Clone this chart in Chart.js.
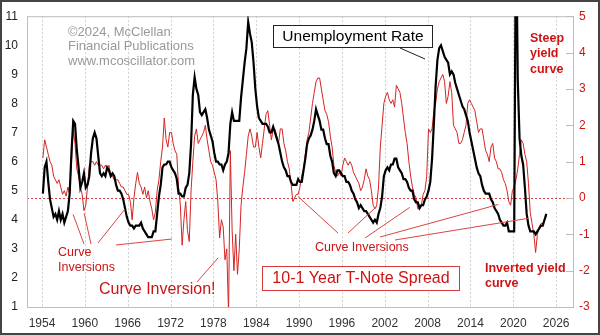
<!DOCTYPE html>
<html>
<head>
<meta charset="utf-8">
<script src="https://cdn.jsdelivr.net/npm/chart.js@4.4.1/dist/chart.umd.min.js"></script>
<style>
  html, body { margin: 0; padding: 0; background: #fff; }
</style>
</head>
<body>
<canvas id="chart" width="600" height="335"></canvas>
<script>
// quarterly values, first quarter of 1954 onwards
const firstYear = 1954;
const yearTicks = [1954, 1960, 1966, 1972, 1978, 1984, 1990, 1996, 2002, 2008, 2014, 2020, 2026];
const unemploymentTicks = [1, 2, 3, 4, 5, 6, 7, 8, 9, 10, 11];
const spreadTicks = [-3, -2, -1, 0, 1, 2, 3, 4, 5];

const unemployment = [
  4.9, 5.8, 6.0, 5.3,   // 1954
  4.7, 4.4, 4.1, 4.2,
  4.0, 4.3, 4.0, 4.2,
  3.9, 4.1, 4.3, 4.9,
  6.3, 7.4, 7.3, 6.4,   // 1958
  5.8, 5.1, 5.3, 5.6,
  5.1, 5.2, 5.5, 6.3,   // 1960
  6.8, 7.0, 6.8, 6.2,
  5.6, 5.5, 5.6, 5.5,
  5.8, 5.7, 5.5, 5.6,
  5.5, 5.2, 5.0, 5.0,
  4.9, 4.7, 4.4, 4.1,
  3.9, 3.8, 3.8, 3.7,   // 1966
  3.8, 3.8, 3.8, 3.9,
  3.7, 3.6, 3.5, 3.4,
  3.4, 3.4, 3.6, 3.6,
  4.2, 4.8, 5.2, 5.8,   // 1970
  5.9, 5.9, 6.0, 6.0,
  5.8, 5.7, 5.6, 5.4,
  4.9, 4.9, 4.8, 4.8,
  5.1, 5.2, 5.6, 6.6,
  8.3, 8.9, 8.5, 8.3,   // 1975
  7.7, 7.6, 7.7, 7.8,
  7.5, 7.1, 6.9, 6.7,
  6.3, 6.0, 6.0, 5.9,
  5.9, 5.7, 5.9, 6.0,
  6.3, 7.3, 7.7, 7.4,   // 1980
  7.4, 7.4, 7.4, 8.2,
  8.8, 9.4, 9.9, 10.8,
  10.4, 10.1, 9.4, 8.5,
  7.9, 7.5, 7.4, 7.3,
  7.3, 7.3, 7.2, 7.0,   // 1985
  7.0, 7.2, 7.0, 6.8,
  6.6, 6.3, 6.0, 5.8,
  5.7, 5.5, 5.5, 5.3,
  5.2, 5.2, 5.2, 5.4,
  5.3, 5.3, 5.7, 6.1,   // 1990
  6.6, 6.8, 6.9, 7.1,
  7.4, 7.8, 7.6, 7.4,
  7.1, 7.1, 6.8, 6.6,
  6.6, 6.2, 6.0, 5.6,
  5.5, 5.7, 5.7, 5.6,   // 1995
  5.5, 5.5, 5.3, 5.3,
  5.2, 5.0, 4.9, 4.7,
  4.6, 4.4, 4.5, 4.4,
  4.3, 4.3, 4.2, 4.1,
  4.0, 3.9, 4.0, 3.9,   // 2000
  4.2, 4.4, 4.8, 5.5,
  5.7, 5.8, 5.7, 5.9,
  5.9, 6.1, 6.1, 5.8,
  5.7, 5.6, 5.4, 5.4,
  5.3, 5.1, 5.0, 5.0,   // 2005
  4.7, 4.6, 4.6, 4.4,
  4.5, 4.5, 4.7, 4.8,
  5.0, 5.3, 6.1, 7.3,
  8.6, 9.5, 9.9, 10.0,
  9.8, 9.6, 9.5, 9.4,   // 2010
  9.0, 9.1, 9.0, 8.7,
  8.5, 8.3, 8.1, 7.9,
  7.8, 7.6, 7.4, 7.0,
  6.7, 6.4, 6.1, 5.8,
  5.6, 5.5, 5.2, 5.0,   // 2015
  4.9, 4.9, 4.9, 4.7,
  4.6, 4.4, 4.3, 4.2,
  4.0, 3.9, 3.8, 3.8,
  3.9, 3.6, 3.6, 3.6,
  3.6, 14.7, 8.8, 6.8,  // 2020
  6.2, 5.9, 5.1, 4.2,
  3.8, 3.6, 3.6, 3.6,
  3.5, 3.6, 3.7, 3.8,
  3.8, 4.0, 4.2         // 2024
];

// 10-year minus 1-year Treasury yield, percentage points
const spread = [
  1.1, 1.6, 1.4, 1.2,   // 1954
  1.0, 0.9, 0.6, 0.5,
  0.4, 0.5, 0.3, 0.1,
  0.2, 0.05, 0.3, 0.1,
  1.0, 1.9, 1.5, 0.8,   // 1958
  0.6, 0.3, 0.1, -0.35,
  -0.2, 0.3, 0.9, 1.0,  // 1960
  1.0, 0.9, 1.0, 0.9,
  0.9, 0.9, 0.8, 0.9,
  0.8, 0.9, 0.6, 0.6,
  0.5, 0.5, 0.5, 0.4,
  0.3, 0.3, 0.2, 0.1,
  0.1, -0.1, -0.6, 0.0, // 1966
  0.4, 0.7, 0.4, 0.3,
  0.1, 0.3, 0.0, 0.2,
  -0.1, -0.3, -0.6, -0.4,
  0.2, 0.5, 1.0, 1.4,   // 1970
  2.2, 1.6, 1.4, 1.8,
  1.8, 1.5, 1.3, 1.2,
  0.3, -0.2, -1.3, -0.6,
  -0.1, -0.9, -1.2, 0.2,
  1.0, 1.7, 1.9, 1.5,   // 1975
  1.6, 1.7, 1.8, 2.0,
  1.6, 1.3, 1.0, 0.9,
  0.7, 0.5, -0.1, -1.1,
  -0.6, -0.8, -1.7, -1.4,
  -3.2, 1.3, -0.9, -2.0, // 1980
  -1.0, -2.1, -1.4, -0.2,
  0.3, 0.7, 1.2, 1.7,
  1.9, 1.7, 1.4, 1.4,
  1.8, 1.4, 1.1, 1.5,
  1.9, 2.3, 2.4, 2.0,   // 1985
  1.6, 1.9, 1.9, 1.7,
  1.5, 1.9, 1.9, 1.5,
  1.3, 1.0, 0.8, 0.4,
  -0.1, 0.0, 0.1, 0.1,
  0.3, 0.6, 0.8, 1.2,   // 1990
  1.6, 1.8, 2.2, 2.6,
  2.9, 3.2, 3.3, 3.3,
  3.0, 2.7, 2.4, 2.3,
  2.1, 1.7, 1.4, 0.9,
  0.7, 0.6, 0.7, 0.6,   // 1995
  0.9, 1.1, 1.0, 0.9,
  1.0, 0.9, 0.7, 0.6,
  0.5, 0.4, 0.2, 0.3,
  0.5, 0.8, 0.6, 0.5,
  0.2, -0.2, -0.3, -0.2, // 2000
  0.3, 1.4, 2.0, 2.6,
  2.8, 2.9, 2.7, 2.6,
  2.7, 2.5, 3.1, 3.0,
  2.9, 2.6, 2.2, 1.8,
  1.5, 1.0, 0.6, 0.3,   // 2005
  0.1, 0.0, -0.3, -0.3,
  -0.2, 0.1, 0.2, 0.6,
  1.9, 1.8, 1.9, 2.4,
  2.6, 3.0, 3.2, 3.3,
  3.4, 3.2, 2.6, 2.8,   // 2010
  3.2, 2.9, 2.0, 1.9,
  1.8, 1.5, 1.5, 1.6,
  1.8, 2.0, 2.6, 2.7,
  2.6, 2.5, 2.4, 2.1,
  1.8, 1.9, 1.9, 1.6,   // 2015
  1.3, 1.2, 1.0, 1.4,
  1.5, 1.1, 1.0, 0.8,
  0.8, 0.7, 0.5, 0.4,
  0.2, -0.1, -0.2, 0.2,
  0.3, 0.5, 0.8, 1.2,   // 2020
  1.6, 1.5, 1.2, 1.0,
  0.4, -0.4, -0.7, -1.0,
  -1.5, -1.0, -0.8, -0.7,
  -0.7, -0.6, -0.5      // 2024
];

function toPoints(values) {
  return values.map((v, i) => ({ x: firstYear + 0.125 + i / 4, y: v }));
}

const FONT = '"Liberation Sans", Arial, Helvetica, sans-serif';
const RED = '#cc1414';
Chart.defaults.font.family = FONT;

// grid, frame, zero line and the text notes
const decorations = {
  id: 'decorations',
  beforeDraw(chart) {
    const ctx = chart.ctx;
    ctx.save();
    ctx.fillStyle = '#fff';
    ctx.fillRect(0, 0, chart.width, chart.height);
    ctx.restore();
  },
  beforeDatasetsDraw(chart) {
    const { ctx, chartArea: a, scales } = chart;
    ctx.save();
    ctx.strokeStyle = '#cfcfcf';
    ctx.lineWidth = 1;
    ctx.setLineDash([2, 2]);
    yearTicks.forEach(yr => {
      const x = Math.round(scales.x.getPixelForValue(yr)) + 0.5;
      ctx.beginPath(); ctx.moveTo(x, a.top); ctx.lineTo(x, a.bottom); ctx.stroke();
    });
    ctx.strokeStyle = '#d04444';
    const y0 = Math.round(scales.y2.getPixelForValue(0)) + 0.5;
    ctx.beginPath(); ctx.moveTo(a.left, y0); ctx.lineTo(a.right, y0); ctx.stroke();
    ctx.setLineDash([]);
    ctx.strokeStyle = '#bdbdbd';
    ctx.strokeRect(a.left + 0.5, a.top + 0.5, a.right - a.left - 1, a.bottom - a.top);
    spreadTicks.forEach(v => {
      const y = Math.round(scales.y2.getPixelForValue(v)) + 0.5;
      ctx.beginPath(); ctx.moveTo(a.right - 8, y); ctx.lineTo(a.right, y); ctx.stroke();
    });
    ctx.restore();
  },
  afterDraw(chart) {
    const { ctx, scales } = chart;
    const sx = v => scales.x.getPixelForValue(v);
    const sy = v => scales.y2.getPixelForValue(v);
    ctx.save();
    ctx.textBaseline = 'middle';

    // copyright
    ctx.fillStyle = '#999';
    ctx.font = '13px ' + FONT;
    ctx.fillText('\u00A92024, McClellan', 68, 32);
    ctx.fillText('Financial Publications', 68, 46);
    ctx.fillText('www.mcoscillator.com', 68, 61);

    // pointers
    ctx.lineWidth = 1;
    ctx.strokeStyle = '#dd4444';
    const pointer = (x1, y1, yr, v) => {
      ctx.beginPath(); ctx.moveTo(x1, y1); ctx.lineTo(sx(yr), sy(v)); ctx.stroke();
    };
    pointer(84, 244, 1958.35, -0.45);
    pointer(91, 244, 1959.9, -0.42);
    pointer(98, 243, 1965.6, -0.31);
    pointer(116, 245, 1972.2, -1.13);
    pointer(338, 233, 1989.85, 0.04);
    pointer(348, 233, 2000.9, -0.23);
    pointer(365, 238, 2005.5, -0.26);
    pointer(380, 237, 2017.9, -0.18);
    pointer(395, 240, 2022.1, -0.56);
    pointer(197, 282, 1978.65, -1.65);

    ctx.fillStyle = RED;
    ctx.font = '12.5px ' + FONT;
    ctx.fillText('Curve', 58, 253);
    ctx.fillText('Inversions', 58, 268);
    ctx.fillText('Curve Inversions', 315, 248);
    ctx.font = '16px ' + FONT;
    ctx.fillText('Curve Inversion!', 99, 290);

    ctx.font = 'bold 12.5px ' + FONT;
    ctx.fillText('Steep', 530, 39);
    ctx.fillText('yield', 530, 54);
    ctx.fillText('curve', 530, 70);
    ctx.fillText('Inverted yield', 485, 269);
    ctx.fillText('curve', 485, 284);

    // spread title box
    ctx.fillStyle = '#fff';
    ctx.fillRect(262, 266, 198, 25);
    ctx.strokeStyle = '#d23c3c';
    ctx.strokeRect(262.5, 266.5, 197, 24);
    ctx.fillStyle = RED;
    ctx.font = '16px ' + FONT;
    ctx.textAlign = 'center';
    ctx.fillText('10-1 Year T-Note Spread', 361, 279);

    // unemployment title box
    ctx.strokeStyle = '#222';
    ctx.beginPath(); ctx.moveTo(400, 48); ctx.lineTo(425, 59); ctx.stroke();
    ctx.fillStyle = '#fff';
    ctx.fillRect(273, 25, 160, 23);
    ctx.strokeRect(273.5, 25.5, 159, 22);
    ctx.fillStyle = '#000';
    ctx.font = '15.5px ' + FONT;
    ctx.fillText('Unemployment Rate', 353, 37);

    // outer frame
    ctx.strokeStyle = '#444';
    ctx.lineWidth = 2;
    ctx.strokeRect(1, 1, chart.width - 2, chart.height - 2);
    ctx.restore();
  }
};

new Chart(document.getElementById('chart'), {
  type: 'line',
  data: {
    datasets: [
      {
        label: 'Unemployment Rate',
        data: toPoints(unemployment),
        yAxisID: 'y',
        borderColor: '#000',
        borderWidth: 2.2,
        pointRadius: 0,
        tension: 0
      },
      {
        label: '10-1 Year T-Note Spread',
        data: toPoints(spread),
        yAxisID: 'y2',
        borderColor: '#d42424',
        borderWidth: 1,
        pointRadius: 0,
        tension: 0
      }
    ]
  },
  options: {
    responsive: false,
    animation: false,
    devicePixelRatio: 1,
    layout: { padding: { top: 12, left: 0, right: 0, bottom: 0 } },
    plugins: { legend: { display: false }, tooltip: { enabled: false } },
    scales: {
      x: {
        type: 'linear',
        min: 1951.9,
        max: 2028.5,
        grid: { display: false, drawTicks: false },
        border: { display: false },
        afterBuildTicks: s => { s.ticks = yearTicks.map(v => ({ value: v })); },
        afterFit: s => { s.height = 28; },
        ticks: { color: '#333', font: { size: 12 }, padding: 9, maxRotation: 0, autoSkip: false, callback: v => String(v) }
      },
      y: {
        position: 'left',
        min: 1,
        max: 11,
        grid: { display: false, drawTicks: false },
        border: { display: false },
        afterBuildTicks: s => { s.ticks = unemploymentTicks.map(v => ({ value: v })); },
        afterFit: s => { s.width = 27; },
        ticks: { color: '#222', font: { size: 12 }, padding: 9 }
      },
      y2: {
        position: 'right',
        min: -3,
        max: 5,
        grid: { display: false, drawTicks: false },
        border: { display: false },
        afterBuildTicks: s => { s.ticks = spreadTicks.map(v => ({ value: v })); },
        afterFit: s => { s.width = 26; },
        ticks: { color: RED, font: { size: 12 }, padding: 5 }
      }
    }
  },
  plugins: [decorations]
});
</script>
</body>
</html>
